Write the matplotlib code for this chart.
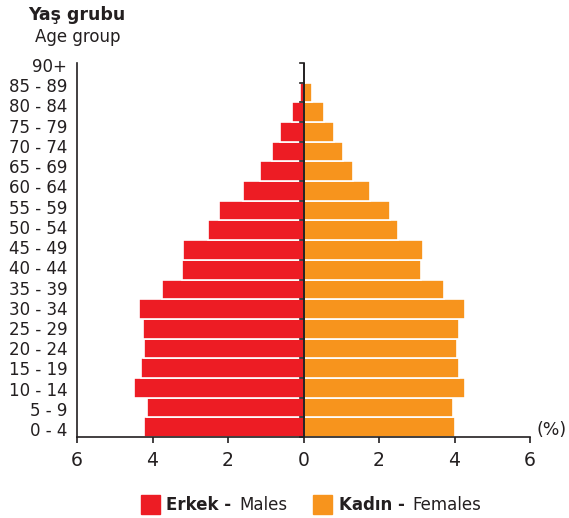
import matplotlib
matplotlib.use("Agg")
import matplotlib.pyplot as plt
from matplotlib.patches import Rectangle
import numpy as np

# Yaş grupları (alttan üste)
yas_gruplari = ["0 - 4", "5 - 9", "10 - 14", "15 - 19", "20 - 24", "25 - 29",
                "30 - 34", "35 - 39", "40 - 44", "45 - 49", "50 - 54", "55 - 59",
                "60 - 64", "65 - 69", "70 - 74", "75 - 79", "80 - 84", "85 - 89", "90+"]
erkek = [4.23, 4.15, 4.50, 4.30, 4.22, 4.26, 4.36, 3.76, 3.22, 3.19, 2.52, 2.25,
         1.61, 1.14, 0.83, 0.63, 0.31, 0.09, 0.02]
kadin = [4.02, 3.95, 4.28, 4.11, 4.06, 4.13, 4.28, 3.72, 3.12, 3.17, 2.50, 2.30,
         1.76, 1.31, 1.05, 0.80, 0.55, 0.23, 0.05]
x_ticks = [-6, -4, -2, 0, 2, 4, 6]
x_tick_labels = ["6", "4", "2", "0", "2", "4", "6"]

KIRMIZI = "#ED1C24"
TURUNCU = "#F7941D"
YAZI = "#231F20"

plt.rcParams["font.family"] = "DejaVu Sans"

fig = plt.figure(figsize=(5.69, 5.18), dpi=100)
ax = fig.add_axes([77 / 569, 1 - 437 / 518, (530 - 77) / 569, (437 - 63) / 518])

y = np.arange(len(yas_gruplari))
ax.barh(y, -np.array(erkek), height=1.0, color=KIRMIZI, edgecolor="white", linewidth=1.2)
ax.barh(y, kadin, height=1.0, color=TURUNCU, edgecolor="white", linewidth=1.2)

ax.set_xlim(-6, 6)
ax.set_ylim(-0.5, len(yas_gruplari) - 0.5)

# orta çizgi ve üzerindeki çentikler
ax.axvline(0, color=YAZI, linewidth=1.4, zorder=5)
for b in np.arange(-0.5, len(yas_gruplari), 1.0):
    ax.plot([-0.1, 0], [b, b], color=YAZI, linewidth=1.2, zorder=5, clip_on=False)

ax.spines["top"].set_visible(False)
ax.spines["right"].set_visible(False)
ax.spines["left"].set_linewidth(1.2)
ax.spines["bottom"].set_linewidth(1.2)
ax.spines["left"].set_color(YAZI)
ax.spines["bottom"].set_color(YAZI)

ax.set_xticks(x_ticks)
ax.set_xticklabels(x_tick_labels, fontsize=13.5, color=YAZI)
ax.tick_params(axis="x", length=4, width=1.2, color=YAZI, pad=6)

# etiketler çubuklardan biraz daha geniş aralıklı: 0-4 altta, 90+ en üstte
etiket_y = np.linspace(-0.1, len(yas_gruplari) - 0.6, len(yas_gruplari))
ax.set_yticks(etiket_y)
ax.set_yticklabels(yas_gruplari, fontsize=12, color=YAZI)
ax.tick_params(axis="y", length=0, pad=7)

fig.text(537 / 569, 1 - 430 / 518, "(%)", fontsize=12.5, color=YAZI, va="center", ha="left")
fig.text(77 / 569, 1 - 15 / 518, "Yaş grubu", fontsize=12.5, fontweight="bold",
         color=YAZI, ha="center", va="center")
fig.text(78 / 569, 1 - 37 / 518, "Age group", fontsize=12, color=YAZI,
         ha="center", va="center")

# lejant
for x0, renk in [(141, KIRMIZI), (313, TURUNCU)]:
    fig.patches.append(Rectangle((x0 / 569, 1 - 514 / 518), 19 / 569, 19 / 518,
                                 transform=fig.transFigure, color=renk))
fig.text(166 / 569, 1 - 505 / 518, "Erkek -", fontsize=12, fontweight="bold",
         color=YAZI, va="center")
fig.text(239 / 569, 1 - 505 / 518, "Males", fontsize=12, color=YAZI, va="center")
fig.text(339 / 569, 1 - 505 / 518, "Kadın -", fontsize=12, fontweight="bold",
         color=YAZI, va="center")
fig.text(412 / 569, 1 - 505 / 518, "Females", fontsize=12, color=YAZI, va="center")

fig.savefig("out.png", dpi=100)
